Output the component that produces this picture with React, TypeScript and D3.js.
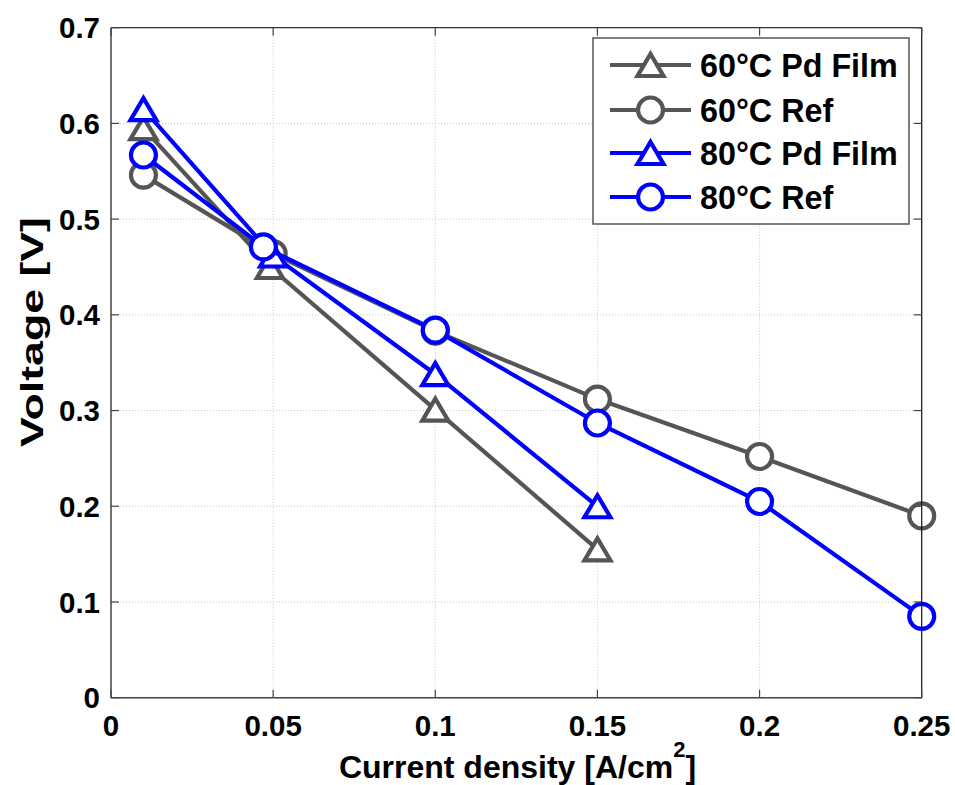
import React from "react";
import * as d3 from "d3";

const xTicks = [0, 0.05, 0.1, 0.15, 0.2, 0.25];
const xTickLabels = ["0", "0.05", "0.1", "0.15", "0.2", "0.25"];
const yTicks = [0, 0.1, 0.2, 0.3, 0.4, 0.5, 0.6, 0.7];
const yTickLabels = ["0", "0.1", "0.2", "0.3", "0.4", "0.5", "0.6", "0.7"];

const seriesNames = ["60°C Pd Film", "60°C Ref", "80°C Pd Film", "80°C Ref"];
const x60Film = [0.01, 0.049, 0.1, 0.15];
const v60Film = [0.595, 0.45, 0.301, 0.155];
const x60Ref = [0.01, 0.05, 0.1, 0.15, 0.2, 0.25];
const v60Ref = [0.546, 0.464, 0.383, 0.312, 0.252, 0.19];
const x80Film = [0.01, 0.05, 0.1, 0.15];
const v80Film = [0.615, 0.462, 0.338, 0.2];
const x80Ref = [0.01, 0.047, 0.1, 0.15, 0.2, 0.25];
const v80Ref = [0.567, 0.471, 0.384, 0.287, 0.205, 0.085];

const GRAY = "#555555";
const BLUE = "#0000ff";
const FONT = "'Liberation Sans', Arial, sans-serif";

const series = [
  { name: seriesNames[0], xs: x60Film, ys: v60Film, color: GRAY, marker: "tri" },
  { name: seriesNames[1], xs: x60Ref, ys: v60Ref, color: GRAY, marker: "circ" },
  { name: seriesNames[2], xs: x80Film, ys: v80Film, color: BLUE, marker: "tri" },
  { name: seriesNames[3], xs: x80Ref, ys: v80Ref, color: BLUE, marker: "circ" },
];

const L = 111, R = 921.7, T = 27.7, B = 697.7;
const x = d3.scaleLinear().domain([0, 0.25]).range([L, R]);
const y = d3.scaleLinear().domain([0, 0.7]).range([B, T]);

function Marker({ kind, cx, cy, color }: { kind: string; cx: number; cy: number; color: string }) {
  if (kind === "circ") {
    return <circle cx={cx} cy={cy} r={12.5} fill="#fff" stroke={color} strokeWidth={4.2} />;
  }
  const hw = 13, hh = 11;
  const d = `M${cx},${cy - hh}L${cx + hw},${cy + hh}L${cx - hw},${cy + hh}Z`;
  return <path d={d} fill="#fff" stroke={color} strokeWidth={4.2} strokeLinejoin="miter" />;
}

export default function App() {
  const line = d3.line<[number, number]>().x((d) => x(d[0])).y((d) => y(d[1]));
  const legX = 593, legY = 38, legW = 316, legH = 186;
  const rowY = [65, 110, 153, 197];
  return (
    <svg
      width={955}
      height={785}
      style={{ position: "absolute", left: 0, top: 0, background: "#fff" }}
      fontFamily={FONT}
      fontWeight="bold"
    >
      <rect x={0} y={0} width={955} height={785} fill="#fff" />
      {/* grid */}
      {xTicks.map((t, i) => (
        <line key={"gx" + i} x1={x(t)} x2={x(t)} y1={T} y2={B} stroke="#c8c8c8" strokeWidth={1} strokeDasharray="1,2" />
      ))}
      {yTicks.map((t, i) => (
        <line key={"gy" + i} x1={L} x2={R} y1={y(t)} y2={y(t)} stroke="#c8c8c8" strokeWidth={1} strokeDasharray="1,2" />
      ))}
      {/* data */}
      {series.map((s, si) => {
        const pts: [number, number][] = s.xs.map((v, i) => [v, s.ys[i]]);
        return (
          <g key={"s" + si}>
            <path d={line(pts) || ""} fill="none" stroke={s.color} strokeWidth={4.2} />
            {pts.map((p, i) => (
              <Marker key={i} kind={s.marker} cx={x(p[0])} cy={y(p[1])} color={s.color} />
            ))}
          </g>
        );
      })}
      {/* axes box */}
      <line x1={L} x2={L} y1={T} y2={B} stroke="#444" strokeWidth={1.5} />
      <line x1={L} x2={R} y1={B} y2={B} stroke="#444" strokeWidth={1.5} />
      <line x1={R} x2={R} y1={T} y2={B} stroke="#111" strokeWidth={1.2} />
      <line x1={L} x2={R} y1={T} y2={T} stroke="#333" strokeWidth={1.2} />
      {xTicks.map((t, i) => (
        <g key={"tx" + i}>
          <line x1={x(t)} x2={x(t)} y1={B} y2={B - 8} stroke="#444" strokeWidth={1.2} />
          <line x1={x(t)} x2={x(t)} y1={T} y2={T + 8} stroke="#444" strokeWidth={1.2} />
          <text x={x(t)} y={735.5} textAnchor="middle" fontSize={29.5} fill="#000">
            {xTickLabels[i]}
          </text>
        </g>
      ))}
      {yTicks.map((t, i) => (
        <g key={"ty" + i}>
          <line x1={L} x2={L + 8} y1={y(t)} y2={y(t)} stroke="#444" strokeWidth={1.2} />
          <line x1={R} x2={R - 8} y1={y(t)} y2={y(t)} stroke="#444" strokeWidth={1.2} />
          <text x={100} y={y(t)} dy="0.36em" textAnchor="end" fontSize={29.5} fill="#000">
            {yTickLabels[i]}
          </text>
        </g>
      ))}
      {/* axis labels */}
      <text x={517.5} y={778} textAnchor="middle" fontSize={32} fill="#000">
        <tspan>Current density [A/cm</tspan>
        <tspan dy={-21} fontSize={22}>2</tspan>
        <tspan dy={21}>]</tspan>
      </text>
      <text
        transform="translate(43,332) rotate(-90)"
        textAnchor="middle"
        fontSize={31}
        fill="#000"
        textLength={230}
        lengthAdjust="spacingAndGlyphs"
      >
        Voltage [V]
      </text>
      {/* legend */}
      <rect x={legX} y={legY} width={legW} height={legH} fill="#fff" stroke="#555" strokeWidth={1.5} />
      {series.map((s, i) => (
        <g key={"lg" + i}>
          <line x1={610} x2={691} y1={rowY[i]} y2={rowY[i]} stroke={s.color} strokeWidth={4.2} />
          <Marker kind={s.marker} cx={650.5} cy={rowY[i]} color={s.color} />
          <text x={700} y={rowY[i]} dy="0.36em" fontSize={32.3} fill="#000">
            {s.name}
          </text>
        </g>
      ))}
    </svg>
  );
}
